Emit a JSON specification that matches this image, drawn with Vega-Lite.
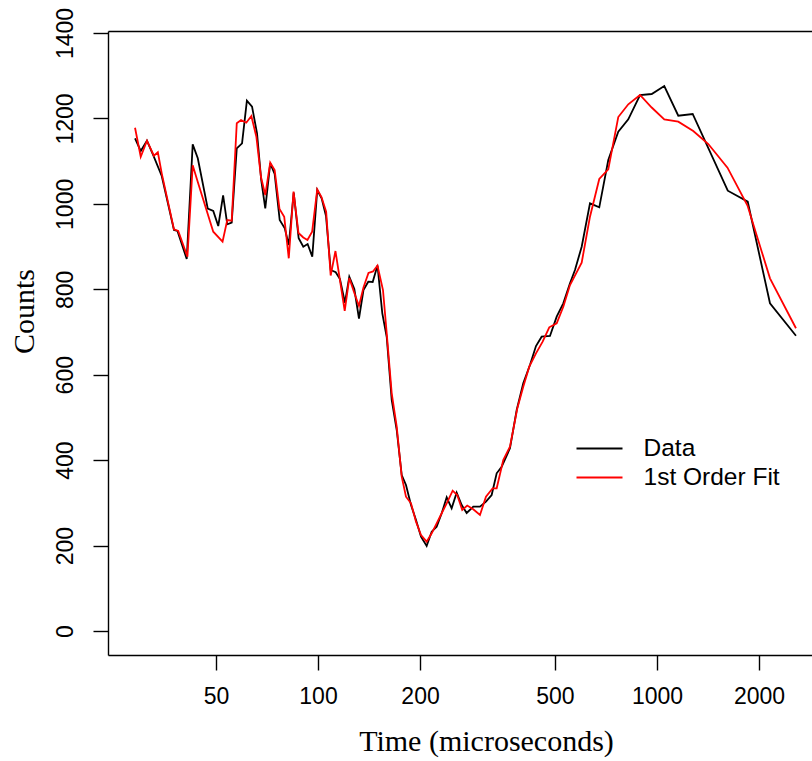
{
  "$schema": "https://vega.github.io/schema/vega-lite/v6.json",
  "autosize": "none",
  "padding": {"left": 108, "top": 31, "right": 0, "bottom": 106},
  "width": 704,
  "height": 624,
  "background": "white",
  "config": {
    "view": {"stroke": null},
    "axis": {
      "grid": false,
      "domainColor": "#000000",
      "domainWidth": 1.4,
      "tickColor": "#000000",
      "tickWidth": 1.4,
      "tickSize": 15,
      "labelColor": "#000000",
      "labelFont": "Liberation Sans",
      "labelFontSize": 23,
      "titleFont": "Liberation Serif",
      "titleFontSize": 30,
      "titleFontWeight": "normal",
      "titleColor": "#000000"
    }
  },
  "data": {
    "values": [
      {"t": 28.86, "c": 1153.5, "s": "Data"},
      {"t": 30.0, "c": 1123.8, "s": "Data"},
      {"t": 31.3, "c": 1147.9, "s": "Data"},
      {"t": 32.7, "c": 1112.8, "s": "Data"},
      {"t": 34.6, "c": 1065.2, "s": "Data"},
      {"t": 37.6, "c": 938.8, "s": "Data"},
      {"t": 38.5, "c": 936.5, "s": "Data"},
      {"t": 41.0, "c": 870.9, "s": "Data"},
      {"t": 42.7, "c": 1139.4, "s": "Data"},
      {"t": 44.2, "c": 1106.7, "s": "Data"},
      {"t": 47.3, "c": 988.7, "s": "Data"},
      {"t": 49.1, "c": 983.3, "s": "Data"},
      {"t": 50.8, "c": 948.2, "s": "Data"},
      {"t": 52.5, "c": 1020.0, "s": "Data"},
      {"t": 54.0, "c": 952.1, "s": "Data"},
      {"t": 55.65, "c": 955.9, "s": "Data"},
      {"t": 57.6, "c": 1130.1, "s": "Data"},
      {"t": 59.7, "c": 1141.8, "s": "Data"},
      {"t": 61.7, "c": 1241.5, "s": "Data"},
      {"t": 63.9, "c": 1227.5, "s": "Data"},
      {"t": 66.1, "c": 1165.2, "s": "Data"},
      {"t": 68.0, "c": 1055.9, "s": "Data"},
      {"t": 69.9, "c": 989.6, "s": "Data"},
      {"t": 72.3, "c": 1094.9, "s": "Data"},
      {"t": 74.5, "c": 1069.9, "s": "Data"},
      {"t": 77.1, "c": 962.2, "s": "Data"},
      {"t": 79.8, "c": 942.8, "s": "Data"},
      {"t": 82.0, "c": 903.7, "s": "Data"},
      {"t": 84.8, "c": 1026.1, "s": "Data"},
      {"t": 87.7, "c": 919.4, "s": "Data"},
      {"t": 90.5, "c": 899.7, "s": "Data"},
      {"t": 93.2, "c": 906.0, "s": "Data"},
      {"t": 96.2, "c": 876.3, "s": "Data"},
      {"t": 99.5, "c": 1032.4, "s": "Data"},
      {"t": 102.5, "c": 1013.0, "s": "Data"},
      {"t": 105.6, "c": 971.6, "s": "Data"},
      {"t": 109.0, "c": 845.2, "s": "Data"},
      {"t": 112.8, "c": 839.8, "s": "Data"},
      {"t": 116.1, "c": 824.1, "s": "Data"},
      {"t": 120.1, "c": 768.6, "s": "Data"},
      {"t": 123.7, "c": 829.5, "s": "Data"},
      {"t": 128.0, "c": 800.7, "s": "Data"},
      {"t": 132.1, "c": 731.6, "s": "Data"},
      {"t": 136.2, "c": 798.3, "s": "Data"},
      {"t": 140.7, "c": 817.8, "s": "Data"},
      {"t": 145.0, "c": 817.1, "s": "Data"},
      {"t": 149.8, "c": 855.7, "s": "Data"},
      {"t": 154.8, "c": 743.8, "s": "Data"},
      {"t": 159.5, "c": 688.3, "s": "Data"},
      {"t": 165.0, "c": 540.8, "s": "Data"},
      {"t": 170.7, "c": 470.6, "s": "Data"},
      {"t": 176.6, "c": 365.2, "s": "Data"},
      {"t": 181.8, "c": 341.8, "s": "Data"},
      {"t": 188.1, "c": 295.0, "s": "Data"},
      {"t": 194.6, "c": 259.9, "s": "Data"},
      {"t": 201.3, "c": 220.8, "s": "Data"},
      {"t": 209.2, "c": 199.0, "s": "Data"},
      {"t": 216.5, "c": 232.5, "s": "Data"},
      {"t": 223.9, "c": 244.2, "s": "Data"},
      {"t": 231.7, "c": 275.6, "s": "Data"},
      {"t": 239.7, "c": 313.0, "s": "Data"},
      {"t": 247.9, "c": 287.3, "s": "Data"},
      {"t": 256.5, "c": 323.8, "s": "Data"},
      {"t": 265.4, "c": 295.0, "s": "Data"},
      {"t": 274.5, "c": 276.3, "s": "Data"},
      {"t": 287.1, "c": 291.0, "s": "Data"},
      {"t": 300.5, "c": 291.0, "s": "Data"},
      {"t": 313.0, "c": 302.7, "s": "Data"},
      {"t": 325.3, "c": 318.4, "s": "Data"},
      {"t": 336.6, "c": 369.2, "s": "Data"},
      {"t": 348.2, "c": 384.6, "s": "Data"},
      {"t": 368.4, "c": 427.7, "s": "Data"},
      {"t": 385.6, "c": 517.4, "s": "Data"},
      {"t": 403.2, "c": 579.9, "s": "Data"},
      {"t": 422.0, "c": 622.7, "s": "Data"},
      {"t": 439.6, "c": 667.2, "s": "Data"},
      {"t": 456.9, "c": 689.0, "s": "Data"},
      {"t": 483.4, "c": 690.6, "s": "Data"},
      {"t": 506.0, "c": 735.8, "s": "Data"},
      {"t": 529.2, "c": 767.2, "s": "Data"},
      {"t": 553.8, "c": 814.0, "s": "Data"},
      {"t": 572.9, "c": 845.2, "s": "Data"},
      {"t": 599.6, "c": 899.7, "s": "Data"},
      {"t": 634.4, "c": 1001.3, "s": "Data"},
      {"t": 675.7, "c": 991.9, "s": "Data"},
      {"t": 718.3, "c": 1102.7, "s": "Data"},
      {"t": 768.8, "c": 1168.9, "s": "Data"},
      {"t": 822.9, "c": 1198.0, "s": "Data"},
      {"t": 891.2, "c": 1254.9, "s": "Data"},
      {"t": 964.7, "c": 1257.2, "s": "Data"},
      {"t": 1050.8, "c": 1275.9, "s": "Data"},
      {"t": 1155.6, "c": 1206.4, "s": "Data"},
      {"t": 1274.4, "c": 1210.4, "s": "Data"},
      {"t": 1617.4, "c": 1030.8, "s": "Data"},
      {"t": 1852.3, "c": 1005.1, "s": "Data"},
      {"t": 2154.4, "c": 767.2, "s": "Data"},
      {"t": 2570.4, "c": 691.3, "s": "Data"},
      {"t": 28.86, "c": 1178.3, "s": "1st Order Fit"},
      {"t": 30.0, "c": 1110.4, "s": "1st Order Fit"},
      {"t": 31.3, "c": 1147.9, "s": "1st Order Fit"},
      {"t": 32.8, "c": 1112.8, "s": "1st Order Fit"},
      {"t": 33.7, "c": 1120.7, "s": "1st Order Fit"},
      {"t": 34.6, "c": 1071.5, "s": "1st Order Fit"},
      {"t": 37.6, "c": 940.4, "s": "1st Order Fit"},
      {"t": 38.7, "c": 936.5, "s": "1st Order Fit"},
      {"t": 41.2, "c": 876.3, "s": "1st Order Fit"},
      {"t": 42.7, "c": 1090.3, "s": "1st Order Fit"},
      {"t": 44.2, "c": 1051.2, "s": "1st Order Fit"},
      {"t": 49.1, "c": 934.8, "s": "1st Order Fit"},
      {"t": 52.3, "c": 911.4, "s": "1st Order Fit"},
      {"t": 54.0, "c": 962.2, "s": "1st Order Fit"},
      {"t": 55.65, "c": 960.6, "s": "1st Order Fit"},
      {"t": 57.6, "c": 1188.6, "s": "1st Order Fit"},
      {"t": 59.3, "c": 1196.3, "s": "1st Order Fit"},
      {"t": 61.45, "c": 1190.0, "s": "1st Order Fit"},
      {"t": 63.6, "c": 1205.7, "s": "1st Order Fit"},
      {"t": 65.8, "c": 1157.2, "s": "1st Order Fit"},
      {"t": 67.9, "c": 1062.9, "s": "1st Order Fit"},
      {"t": 69.9, "c": 1020.7, "s": "1st Order Fit"},
      {"t": 72.3, "c": 1096.4, "s": "1st Order Fit"},
      {"t": 74.5, "c": 1079.3, "s": "1st Order Fit"},
      {"t": 77.0, "c": 988.0, "s": "1st Order Fit"},
      {"t": 79.5, "c": 970.0, "s": "1st Order Fit"},
      {"t": 82.0, "c": 872.6, "s": "1st Order Fit"},
      {"t": 84.7, "c": 1028.5, "s": "1st Order Fit"},
      {"t": 87.6, "c": 931.8, "s": "1st Order Fit"},
      {"t": 90.5, "c": 921.2, "s": "1st Order Fit"},
      {"t": 93.1, "c": 915.4, "s": "1st Order Fit"},
      {"t": 96.1, "c": 934.8, "s": "1st Order Fit"},
      {"t": 99.5, "c": 1034.1, "s": "1st Order Fit"},
      {"t": 102.4, "c": 1016.1, "s": "1st Order Fit"},
      {"t": 105.7, "c": 981.7, "s": "1st Order Fit"},
      {"t": 109.0, "c": 832.3, "s": "1st Order Fit"},
      {"t": 112.6, "c": 889.6, "s": "1st Order Fit"},
      {"t": 116.3, "c": 817.1, "s": "1st Order Fit"},
      {"t": 119.9, "c": 749.2, "s": "1st Order Fit"},
      {"t": 123.7, "c": 826.4, "s": "1st Order Fit"},
      {"t": 127.7, "c": 793.6, "s": "1st Order Fit"},
      {"t": 132.1, "c": 760.9, "s": "1st Order Fit"},
      {"t": 136.2, "c": 804.2, "s": "1st Order Fit"},
      {"t": 140.9, "c": 838.1, "s": "1st Order Fit"},
      {"t": 145.3, "c": 841.7, "s": "1st Order Fit"},
      {"t": 149.8, "c": 855.7, "s": "1st Order Fit"},
      {"t": 155.5, "c": 798.3, "s": "1st Order Fit"},
      {"t": 159.5, "c": 697.0, "s": "1st Order Fit"},
      {"t": 165.0, "c": 556.5, "s": "1st Order Fit"},
      {"t": 170.7, "c": 478.3, "s": "1st Order Fit"},
      {"t": 176.6, "c": 361.2, "s": "1st Order Fit"},
      {"t": 181.8, "c": 314.4, "s": "1st Order Fit"},
      {"t": 188.1, "c": 299.0, "s": "1st Order Fit"},
      {"t": 194.6, "c": 255.9, "s": "1st Order Fit"},
      {"t": 201.3, "c": 224.8, "s": "1st Order Fit"},
      {"t": 209.2, "c": 209.1, "s": "1st Order Fit"},
      {"t": 216.5, "c": 228.7, "s": "1st Order Fit"},
      {"t": 223.9, "c": 252.1, "s": "1st Order Fit"},
      {"t": 231.7, "c": 275.6, "s": "1st Order Fit"},
      {"t": 239.7, "c": 299.0, "s": "1st Order Fit"},
      {"t": 249.6, "c": 328.5, "s": "1st Order Fit"},
      {"t": 257.5, "c": 318.4, "s": "1st Order Fit"},
      {"t": 266.4, "c": 283.3, "s": "1st Order Fit"},
      {"t": 275.6, "c": 293.8, "s": "1st Order Fit"},
      {"t": 287.1, "c": 284.9, "s": "1st Order Fit"},
      {"t": 300.5, "c": 271.6, "s": "1st Order Fit"},
      {"t": 313.0, "c": 314.4, "s": "1st Order Fit"},
      {"t": 327.5, "c": 334.1, "s": "1st Order Fit"},
      {"t": 336.6, "c": 334.1, "s": "1st Order Fit"},
      {"t": 352.0, "c": 400.3, "s": "1st Order Fit"},
      {"t": 368.4, "c": 431.5, "s": "1st Order Fit"},
      {"t": 387.3, "c": 521.4, "s": "1st Order Fit"},
      {"t": 403.2, "c": 571.9, "s": "1st Order Fit"},
      {"t": 420.0, "c": 618.8, "s": "1st Order Fit"},
      {"t": 439.6, "c": 650.1, "s": "1st Order Fit"},
      {"t": 460.0, "c": 677.3, "s": "1st Order Fit"},
      {"t": 481.1, "c": 711.0, "s": "1st Order Fit"},
      {"t": 506.0, "c": 720.4, "s": "1st Order Fit"},
      {"t": 529.2, "c": 759.2, "s": "1st Order Fit"},
      {"t": 553.8, "c": 810.0, "s": "1st Order Fit"},
      {"t": 599.6, "c": 862.3, "s": "1st Order Fit"},
      {"t": 634.4, "c": 970.0, "s": "1st Order Fit"},
      {"t": 675.7, "c": 1058.2, "s": "1st Order Fit"},
      {"t": 718.3, "c": 1080.9, "s": "1st Order Fit"},
      {"t": 768.8, "c": 1203.3, "s": "1st Order Fit"},
      {"t": 822.9, "c": 1233.1, "s": "1st Order Fit"},
      {"t": 891.2, "c": 1254.9, "s": "1st Order Fit"},
      {"t": 964.7, "c": 1225.6, "s": "1st Order Fit"},
      {"t": 1050.8, "c": 1197.5, "s": "1st Order Fit"},
      {"t": 1155.6, "c": 1192.4, "s": "1st Order Fit"},
      {"t": 1279.4, "c": 1170.6, "s": "1st Order Fit"},
      {"t": 1417.1, "c": 1140.1, "s": "1st Order Fit"},
      {"t": 1614.2, "c": 1084.7, "s": "1st Order Fit"},
      {"t": 1849.3, "c": 996.2, "s": "1st Order Fit"},
      {"t": 2154.4, "c": 825.7, "s": "1st Order Fit"},
      {"t": 2570.4, "c": 708.7, "s": "1st Order Fit"}
    ]
  },
  "resolve": {"axis": {"x": "independent"}},
  "layer": [
    {
      "transform": [{"filter": "datum.s === 'Data'"}],
      "mark": {"type": "line", "strokeWidth": 1.8, "clip": true},
      "encoding": {
        "x": {
          "field": "t", "type": "quantitative",
          "scale": {"type": "log", "domain": [24.02, 2866], "nice": false},
          "axis": {
            "orient": "bottom",
            "values": [50, 100, 200, 500, 1000, 2000],
            "format": "d",
            "labelPadding": 15,
            "labelFlush": false,
            "labelOverlap": false,
            "title": "Time (microseconds)",
            "titleX": 378,
            "titleY": 95,
            "titleAlign": "center",
            "titleBaseline": "alphabetic",
            "titleAnchor": null
          }
        },
        "y": {
          "field": "c", "type": "quantitative",
          "scale": {"domain": [-56.2, 1404.7], "nice": false, "zero": false},
          "axis": {
            "values": [0, 200, 400, 600, 800, 1000, 1200, 1400],
            "format": "d",
            "labelAngle": -90,
            "labelAlign": "center",
            "labelBaseline": "alphabetic",
            "labelPadding": 21,
            "labelFlush": false,
            "labelOverlap": false,
            "title": "Counts",
            "titleAngle": -90,
            "titleX": -75,
            "titleY": 280,
            "titleAlign": "center",
            "titleBaseline": "alphabetic"
          }
        },
        "color": {
          "field": "s", "type": "nominal",
          "scale": {"domain": ["Data", "1st Order Fit"], "range": ["#000000", "#ff0000"]},
          "legend": {
            "orient": "none",
            "legendX": 479,
            "legendY": 405,
            "title": null,
            "padding": 0,
            "symbolType": "M-2,0L2,0",
            "symbolSize": 529,
            "symbolStrokeWidth": 1.8,
            "symbolFillColor": "transparent",
            "labelFont": "Liberation Sans",
            "labelFontSize": 24.5,
            "labelColor": "#000000",
            "labelOffset": 31.5,
            "rowPadding": 4
          }
        }
      }
    },
    {
      "transform": [{"filter": "datum.s === '1st Order Fit'"}],
      "mark": {"type": "line", "strokeWidth": 1.8, "clip": true},
      "encoding": {
        "x": {
          "field": "t", "type": "quantitative",
          "axis": {
            "orient": "top",
            "labels": false,
            "ticks": false,
            "title": null,
            "domain": true
          }
        },
        "y": {"field": "c", "type": "quantitative"},
        "color": {"field": "s", "type": "nominal"}
      }
    }
  ]
}
